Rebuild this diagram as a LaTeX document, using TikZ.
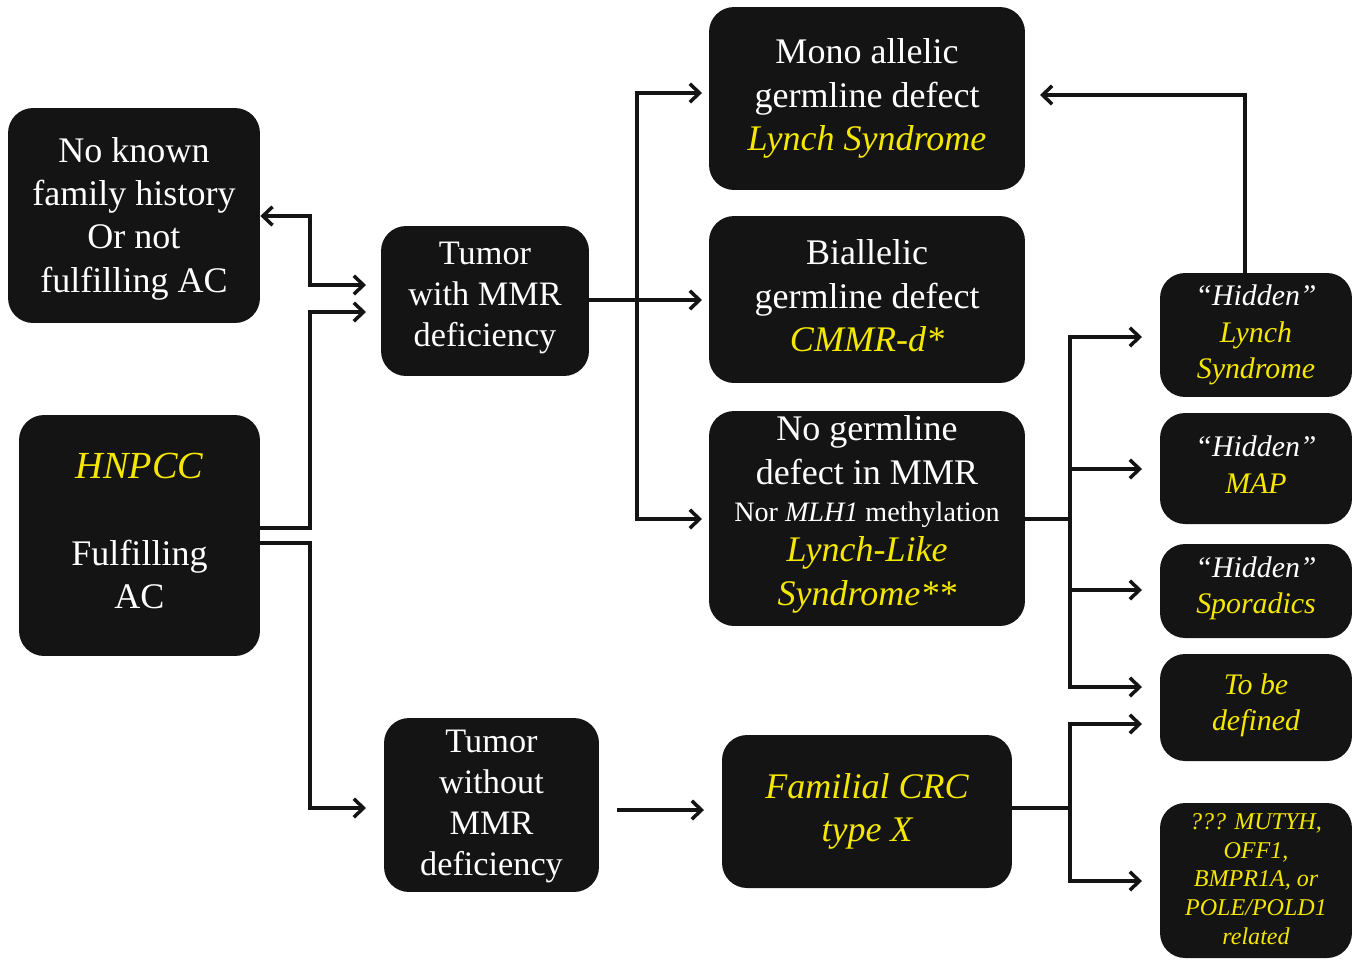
\documentclass[tikz,border=0pt]{standalone}
\usepackage{fontspec}
\setmainfont{Liberation Serif}
\usetikzlibrary{arrows.meta}
\definecolor{boxc}{RGB}{20,20,20}
\definecolor{yel}{RGB}{245,232,0}
\newcommand{\yi}[1]{\textcolor{yel}{\itshape #1}}
\begin{document}
\begin{tikzpicture}[x=0.02cm,y=-0.02cm,
 box/.style={fill=boxc, rounded corners=0.5cm, inner sep=0pt},
 txt/.style={text=white, align=center, inner sep=0pt, font=\fontsize{20.5}{24.7}\selectfont},
 txtm/.style={txt, font=\fontsize{19.5}{23.3}\selectfont},
 hid/.style={txt, font=\fontsize{17}{20.7}\selectfont},
 tny/.style={txt, font=\fontsize{13.7}{16.4}\selectfont},
 conn/.style={line width=2pt, draw=boxc},
 arr/.style={conn, -{Straight Barb[length=5.5pt,width=10.5pt]}},
 darr/.style={conn, {Straight Barb[length=5.5pt,width=10.5pt]}-{Straight Barb[length=5.5pt,width=10.5pt]}},
]
\useasboundingbox (0,0) rectangle (1359,961);

% boxes
\node[box, minimum width=5.04cm, minimum height=4.3cm] (A) at (134,215.5) {};
\node[box, minimum width=4.82cm, minimum height=4.82cm] (B) at (139.5,535.5) {};
\node[box, minimum width=4.16cm, minimum height=3.0cm] (C) at (485,301) {};
\node[box, minimum width=4.3cm, minimum height=3.48cm] (D) at (491.5,805) {};
\node[box, minimum width=6.32cm, minimum height=3.66cm] (E) at (867,98.5) {};
\node[box, minimum width=6.32cm, minimum height=3.34cm] (F) at (867,299.5) {};
\node[box, minimum width=6.32cm, minimum height=4.3cm] (G) at (867,518.5) {};
\node[box, minimum width=5.8cm, minimum height=3.06cm] (H) at (867,811.5) {};
\node[box, minimum width=3.84cm, minimum height=2.48cm] (I) at (1256,335) {};
\node[box, minimum width=3.84cm, minimum height=2.22cm] (J) at (1256,468.5) {};
\node[box, minimum width=3.84cm, minimum height=1.88cm] (K) at (1256,591) {};
\node[box, minimum width=3.84cm, minimum height=2.14cm] (L) at (1256,707.5) {};
\node[box, minimum width=3.84cm, minimum height=3.1cm] (M) at (1256,880.5) {};

% texts
\node[txt] (At) at (134,218.5) {No known\\family history\\Or not\\fulfilling AC};
\node[txt] (Bt) at (139.5,531) {{\fontsize{21.8}{24.7}\selectfont\yi{HNPCC}}\\[24.7pt]Fulfilling\\AC};
\node[txtm] (Ct) at (485,298) {Tumor\\with MMR\\deficiency};
\node[txtm] (Dt) at (491.5,806.5) {Tumor\\without\\MMR\\deficiency};
\node[txt] (Et) at (867,98.5) {Mono allelic\\germline defect\\\yi{Lynch Syndrome}};
\node[txt] (Ft) at (867,296) {Biallelic\\germline defect\\\yi{CMMR-d*}};
\node[txt] (Gt) at (867,514.5) {No germline\\defect in MMR\\[-3.7pt]{\fontsize{16}{19}\selectfont Nor \textit{MLH1} methylation}\\[-1.5pt]\yi{Lynch-Like}\\\yi{Syndrome**}};
\node[txt] (Ht) at (867,811.5) {\yi{Familial CRC}\\\yi{type X}};
\node[hid] (It) at (1256,335) {\textit{“Hidden”}\\\yi{Lynch}\\\yi{Syndrome}};
\node[hid] (Jt) at (1256,464.5) {\textit{“Hidden”}\\\yi{MAP}};
\node[hid] (Kt) at (1256,588) {\textit{“Hidden”}\\\yi{Sporadics}};
\node[hid] (Lt) at (1256,705.5) {\yi{To be}\\\yi{defined}};
\node[tny] (Mt) at (1256,879) {\yi{??? MUTYH,}\\\yi{OFF1,}\\\yi{BMPR1A, or}\\\yi{POLE/POLD1}\\\yi{related}};

% A <-> C
\coordinate (a1) at (310,216);
\coordinate (a2) at (310,285);
\coordinate (tc1) at (366,285);
\draw[darr] (A.east |- a1) -- (a1) -- (a2) -- (tc1);
% B -> C
\coordinate (b1) at (310,528);
\coordinate (b2) at (310,312);
\coordinate (tc2) at (366,312);
\draw[arr] (B.east |- b1) -- (b1) -- (b2) -- (tc2);
% B -> D
\coordinate (b3) at (310,543);
\coordinate (b4) at (310,808);
\coordinate (td) at (366,808);
\draw[arr] (B.east |- b3) -- (b3) -- (b4) -- (td);
% C -> E, F, G
\coordinate (cj) at (637,300);
\coordinate (te) at (702,93);
\coordinate (tf) at (702,300);
\coordinate (tg) at (702,519);
\draw[arr] (C.east |- cj) -- (tf);
\draw[arr] (cj) |- (te);
\draw[arr] (cj) |- (tg);
% D -> H
\coordinate (dh1) at (617,810);
\coordinate (dh2) at (704,810);
\draw[arr] (dh1) -- (dh2);
% I -> E
\coordinate (i0) at (1245,273);
\coordinate (i1) at (1245,95);
\coordinate (te2) at (1040,95);
\draw[arr] (i0) -- (i1) -- (te2);
% G -> I, J, K, L
\coordinate (gj) at (1070,519);
\coordinate (ti) at (1142,337);
\coordinate (tj) at (1142,469);
\coordinate (tk) at (1142,590);
\coordinate (tl) at (1142,687);
\draw[conn] (G.east |- gj) -- (gj);
\draw[arr] (gj) |- (ti);
\draw[arr] (gj) |- (tj);
\draw[arr] (gj) |- (tk);
\draw[arr] (gj) |- (tl);
% H -> L, M
\coordinate (hj) at (1070,808);
\coordinate (tl2) at (1142,724);
\coordinate (tm) at (1142,881);
\draw[conn] (H.east |- hj) -- (hj);
\draw[arr] (hj) |- (tl2);
\draw[arr] (hj) |- (tm);
\end{tikzpicture}
\end{document}
